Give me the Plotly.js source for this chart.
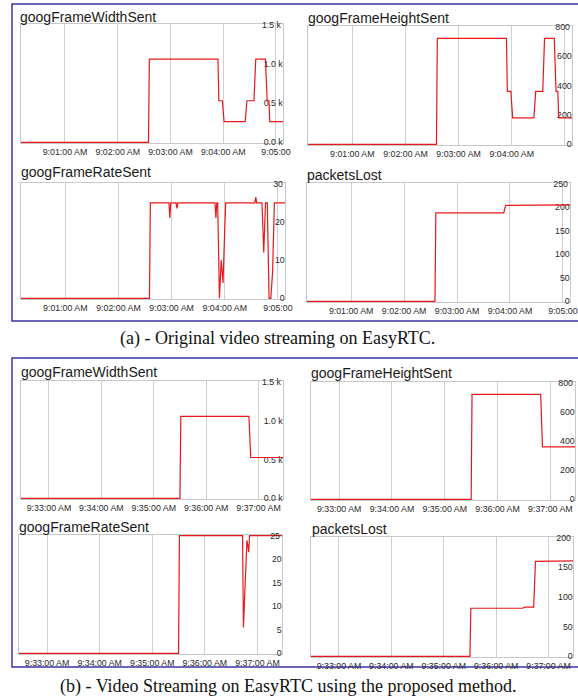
<!DOCTYPE html>
<html><head><meta charset="utf-8">
<script src="https://cdn.plot.ly/plotly-3.0.1.min.js"></script>
<style>html,body{margin:0;padding:0;background:#fff;} #chart{width:578px;height:699px;}</style>
</head><body><div id="chart"></div>
<script>
// ---------------- DATA ----------------
const DAY = '2016-05-10 ';
const chartTitles = ['googFrameWidthSent', 'googFrameHeightSent', 'googFrameRateSent', 'packetsLost'];
const captionA = '(a) - Original video streaming on EasyRTC.';
const captionB = '(b) - Video Streaming on EasyRTC using the proposed method.';

// Panel (a) – original
const timeA_size = ['09:00:10','09:02:35','09:02:36','09:03:54','09:03:55','09:03:59','09:04:01','09:04:25','09:04:27','09:04:35','09:04:37','09:04:48','09:04:50','09:04:52','09:04:53','09:05:08'];
const widthA  = [0,0,1060,1060,530,530,265,265,530,530,1060,1060,530,530,265,265];
const heightA = [0,0,720,720,360,360,180,180,360,360,720,720,360,360,180,180];
const timeA_fps = ['09:00:10','09:02:35','09:02:36','09:02:57','09:02:58','09:02:59','09:03:05','09:03:06','09:03:07','09:03:49','09:03:50','09:03:51','09:03:52','09:03:54','09:03:56','09:03:58','09:04:01','09:04:34','09:04:35','09:04:36','09:04:42','09:04:44','09:04:46','09:04:48','09:04:50','09:04:52','09:04:54','09:04:56','09:05:08'];
const fpsA = [0,0,25,25,21,25,25,23.5,25,25,21,25,25,0,10,4,25,25,26.5,25,25,12,25,25,0,0,7,25,25];
const timeA_lost = ['09:00:10','09:02:35','09:02:36','09:03:53','09:03:55','09:05:08'];
const lostA = [0,0,188,188,204,205];

// Panel (b) – proposed method
const timeB_size = ['09:32:28','09:35:30','09:35:31','09:36:49','09:36:51','09:37:28'];
const widthB  = [0,0,1055,1055,525,525];
const heightB = [0,0,720,720,360,360];
const timeB_fps = ['09:32:28','09:35:30','09:35:31','09:36:43','09:36:44','09:36:48','09:36:49','09:36:50','09:36:51','09:37:28'];
const fpsB = [0,0,25,25,5.5,24,23,21.5,25,25];
const timeB_lost = ['09:32:28','09:35:30','09:35:31','09:36:30','09:36:33','09:36:43','09:36:45','09:37:28'];
const lostB = [0,0,81,81,83,83,160,161];

// Axis ticks
const xRangeA = ['09:00:10', '09:05:08'];
const xTicksA = ['09:01:00','09:02:00','09:03:00','09:04:00','09:05:00'];
const xTickTextA = ['9:01:00 AM','9:02:00 AM','9:03:00 AM','9:04:00 AM','9:05:00'];
const xRangeB = ['09:32:28', '09:37:28'];
const xTicksB = ['09:33:00','09:34:00','09:35:00','09:36:00','09:37:00'];
const xTickTextB = ['9:33:00 AM','9:34:00 AM','9:35:00 AM','9:36:00 AM','9:37:00 AM'];

const yTicksWidth = [0, 500, 1000, 1500];
const yTextWidth = ['0.0 k', '0.5 k', '1.0 k', '1.5 k'];
const yTicksHeight = [0, 200, 400, 600, 800];
const yTicksFpsA = [0, 10, 20, 30];
const yTicksLostA = [0, 50, 100, 150, 200, 250];
const yTicksFpsB = [0, 5, 10, 15, 20, 25];
const yTicksLostB = [0, 50, 100, 150, 200];

// ---------------- LAYOUT HELPERS ----------------
const W = 578, H = 699;
const px = x => x / W, py = y => 1 - y / H;
const FONT = 'Liberation Sans, Arial, sans-serif';
const RED = 'rgb(232,24,24)';

// box = [left, right, top, bottom] in pixels; title = [x, yCenter]
const plots = [
  {t: chartTitles[0], x: timeA_size, y: widthA,  box: [21,283,24,143],  tp: [20,17],  xr: xRangeA, xt: xTicksA, xtt: xTickTextA, yt: yTicksWidth, ytt: yTextWidth},
  {t: chartTitles[1], x: timeA_size, y: heightA, box: [308,572,26,145], tp: [308,18], xr: xRangeA, xt: xTicksA, xtt: xTickTextA, yt: yTicksHeight},
  {t: chartTitles[2], x: timeA_fps,  y: fpsA,    box: [21,285,183,299], tp: [21,172], xr: xRangeA, xt: xTicksA, xtt: xTickTextA, yt: yTicksFpsA},
  {t: chartTitles[3], x: timeA_lost, y: lostA,   box: [307,570,183,302],tp: [307,175],xr: xRangeA, xt: xTicksA, xtt: xTickTextA, yt: yTicksLostA},
  {t: chartTitles[0], x: timeB_size, y: widthB,  box: [21,283,381,499], tp: [21,372], xr: xRangeB, xt: xTicksB, xtt: xTickTextB, yt: yTicksWidth, ytt: yTextWidth},
  {t: chartTitles[1], x: timeB_size, y: heightB, box: [311,575,382,500],tp: [311,373],xr: xRangeB, xt: xTicksB, xtt: xTickTextB, yt: yTicksHeight},
  {t: chartTitles[2], x: timeB_fps,  y: fpsB,    box: [19,282,535,654], tp: [19,527], xr: xRangeB, xt: xTicksB, xtt: xTickTextB, yt: yTicksFpsB},
  {t: chartTitles[3], x: timeB_lost, y: lostB,   box: [311,573,537,657],tp: [312,529],xr: xRangeB, xt: xTicksB, xtt: xTickTextB, yt: yTicksLostB}
];

const data = [];
const layout = {
  width: W, height: H,
  margin: {l: 0, r: 0, t: 0, b: 0, pad: 0},
  paper_bgcolor: '#fff', plot_bgcolor: '#fff',
  showlegend: false,
  font: {family: FONT, color: '#333'},
  annotations: [], shapes: []
};
const tickFont = {family: FONT, size: 8.8, color: '#2a2a2a'};

plots.forEach((p, k) => {
  const i = k + 1, s = i === 1 ? '' : String(i);
  const o = i + 8;
  const [l, r, t, b] = p.box;
  const ticks = p.yt, texts = p.ytt || p.yt.map(String);
  const top = ticks[ticks.length - 1];
  const pad = 0.7 * top / (b - t);
  const yr = [-pad, top + pad];

  data.push({x: p.x.map(v => DAY + v), y: p.y, xaxis: 'x' + s, yaxis: 'y' + s,
             type: 'scatter', mode: 'lines', line: {color: RED, width: 1.2}, hoverinfo: 'skip'});
  data.push({x: [], y: [], xaxis: 'x' + s, yaxis: 'y' + o, type: 'scatter', mode: 'lines', hoverinfo: 'skip'});

  layout['xaxis' + s] = {
    domain: [px(l), px(r)], anchor: 'y' + s, type: 'date',
    range: p.xr.map(v => DAY + v),
    tickmode: 'array', tickvals: p.xt.map(v => DAY + v), ticktext: p.xtt,
    showgrid: true, gridcolor: '#cfcfcf', gridwidth: 1,
    showline: true, mirror: true, linecolor: '#c8c8c8', linewidth: 1,
    ticks: '', zeroline: false, tickfont: tickFont, layer: 'below traces', fixedrange: true
  };
  layout['yaxis' + s] = {
    domain: [py(b), py(t)], anchor: 'x' + s, side: 'right', range: yr,
    tickmode: 'array', tickvals: ticks.slice(0, -1), ticktext: texts.slice(0, -1),
    ticklabelposition: 'inside', ticklabelshift: 4.5, ticklabelstandoff: -1, ticklabeloverflow: 'allow',
    showgrid: false, showline: true, mirror: true, linecolor: '#c8c8c8', linewidth: 1,
    ticks: '', zeroline: false, tickfont: tickFont, layer: 'below traces', fixedrange: true
  };
  layout['yaxis' + o] = {
    overlaying: 'y' + s, anchor: 'x' + s, side: 'right', range: yr,
    tickmode: 'array', tickvals: [top], ticktext: [texts[texts.length - 1]],
    ticklabelposition: 'inside', ticklabelshift: -5.5, ticklabelstandoff: -1, ticklabeloverflow: 'allow',
    showgrid: false, showline: false, ticks: '', zeroline: false, tickfont: tickFont, fixedrange: true
  };
  layout.annotations.push({
    text: p.t, xref: 'paper', yref: 'paper', x: px(p.tp[0] - 2), y: py(p.tp[1]),
    xanchor: 'left', yanchor: 'middle', showarrow: false,
    font: {family: FONT, size: 14, color: '#1a1a1a'}
  });
});

// captions
layout.annotations.push({text: captionA, xref: 'paper', yref: 'paper', x: px(277.5), y: py(338),
  xanchor: 'center', yanchor: 'middle', showarrow: false,
  font: {family: 'Liberation Serif, Times New Roman, serif', size: 18, color: '#111'}});
layout.annotations.push({text: captionB, xref: 'paper', yref: 'paper', x: px(287.5), y: py(686),
  xanchor: 'center', yanchor: 'middle', showarrow: false,
  font: {family: 'Liberation Serif, Times New Roman, serif', size: 18, color: '#111'}});

// panel frames
const frameLine = {color: '#3a34a6', width: 1.5};
layout.shapes.push({type: 'rect', xref: 'paper', yref: 'paper', x0: px(12), x1: px(590), y0: py(321), y1: py(4), line: frameLine, layer: 'below'});
layout.shapes.push({type: 'rect', xref: 'paper', yref: 'paper', x0: px(12), x1: px(590), y0: py(667), y1: py(358), line: frameLine, layer: 'below'});

Plotly.newPlot('chart', data, layout, {displayModeBar: false, staticPlot: true});
</script>
</body></html>
